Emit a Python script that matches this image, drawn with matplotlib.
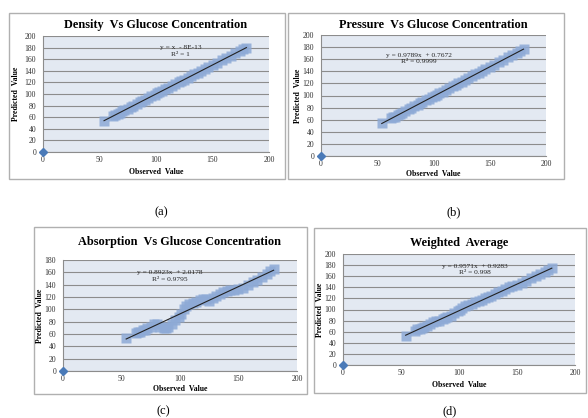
import matplotlib
matplotlib.use("Agg")
import matplotlib.pyplot as plt
from matplotlib.patches import Rectangle
import numpy as np

plt.rcParams['font.family'] = ['Liberation Serif', 'DejaVu Serif']

W, H = 588, 418

# observed glucose values (same for all panels)
observed = [54, 62, 64, 66, 68, 70, 72, 75, 78, 80, 83, 86, 88, 90, 93, 96, 99, 101,
            103, 105, 108, 111, 114, 117, 120, 122, 125, 128, 131, 134, 137, 140,
            143, 146, 150, 154, 158, 162, 166, 170, 174, 177, 180]

density_pred = [54, 62, 64, 66, 68, 70, 72, 75, 78, 80, 83, 86, 88, 90, 93, 96, 99, 101,
                103, 105, 108, 111, 114, 117, 120, 122, 125, 128, 131, 134, 137, 140,
                143, 146, 150, 154, 158, 162, 166, 170, 174, 177, 180]

pressure_pred = [54, 62, 64, 65, 67, 69, 71, 74, 77, 79, 82, 85, 87, 89, 92, 95, 98, 100,
                 101, 104, 106, 109, 112, 115, 118, 120, 123, 126, 129, 132, 135, 137,
                 140, 144, 147, 151, 155, 159, 163, 167, 171, 174, 177]

absorption_pred = [54, 62, 63, 64, 66, 67, 69, 72, 76, 77, 72, 69, 69, 72, 77, 82, 87, 92,
                   100, 106, 108, 110, 112, 115, 117, 117, 114, 118, 121, 125, 128, 130,
                   131, 132, 133, 134, 140, 145, 148, 153, 158, 162, 166]

weighted_pred = [53, 62, 64, 65, 66, 68, 70, 73, 77, 79, 80, 82, 84, 86, 89, 93, 97, 100,
                 103, 106, 108, 110, 113, 116, 118, 120, 122, 125, 128, 131, 134, 137,
                 140, 142, 145, 148, 152, 156, 160, 164, 168, 171, 174]

titles = ["Density  Vs Glucose Concentration", "Pressure  Vs Glucose Concentration",
          "Absorption  Vs Glucose Concentration", "Weighted  Average"]
equations = ["y = x  - 8E-13\nR\u00b2 = 1", "y = 0.9789x  + 0.7672\nR\u00b2 = 0.9999",
             "y = 0.8923x  + 2.0178\nR\u00b2 = 0.9795", "y = 0.9571x  + 0.9283\nR\u00b2 = 0.998"]
eq_pos = [(122, 174), (87, 161), (91, 154), (114, 172)]
ymax = [200, 200, 180, 200]
captions = ["(a)", "(b)", "(c)", "(d)"]
preds = [density_pred, pressure_pred, absorption_pred, weighted_pred]

# pixel layout: outer box, plot area (x0, x1, ytop, ybot), title y, xlabel y, ylabel x, caption pos
boxes = [(9, 13, 285, 179), (288, 13, 564, 179), (34, 227, 307, 394), (314, 228, 586, 393)]
areas = [(43, 269, 36, 152), (321, 546, 35, 156), (63, 297, 260, 371), (343, 575, 254, 365)]
title_y = [25, 25, 242, 243]
xlab_y = [172, 174, 389, 385]
ylab_x = [16, 298, 40, 320]
cap_pos = [(161, 212), (454, 212), (163, 411), (450, 411)]

fig = plt.figure(figsize=(W / 100, H / 100), dpi=100)


def fx(x):
    return x / W


def fy(y):
    return 1 - y / H


for i in range(4):
    bx0, by0, bx1, by1 = boxes[i]
    fig.patches.append(Rectangle((fx(bx0), fy(by1)), fx(bx1 - bx0), (by1 - by0) / H,
                                 transform=fig.transFigure, fill=False,
                                 edgecolor='#b0b0b0', lw=1.0))
    x0, x1, yt, yb = areas[i]
    ax = fig.add_axes([fx(x0), fy(yb), fx(x1 - x0), (yb - yt) / H])
    ax.set_facecolor('#e3e9f2')
    ax.set_xlim(0, 200)
    ax.set_ylim(0, ymax[i])
    ax.set_xticks([0, 50, 100, 150, 200])
    ax.set_yticks(range(0, ymax[i] + 1, 20))
    ax.grid(axis='y', color='#8c8c8c', lw=0.8)
    ax.set_axisbelow(True)
    for s in ['top', 'right']:
        ax.spines[s].set_visible(False)
    for s in ['left', 'bottom']:
        ax.spines[s].set_color('#8c8c8c')
        ax.spines[s].set_linewidth(0.8)
    ax.tick_params(axis='y', labelsize=5.6, length=0, pad=5, colors='#333333')
    ax.tick_params(axis='x', labelsize=5.6, length=0, pad=3, colors='#333333')

    x = np.array(observed)
    y = np.array(preds[i])
    ax.plot(x, y, 's', color='#8eaad6', ms=7, alpha=0.85, mec='none')
    ax.plot([0], [0], 'D', color='#4a7ab8', ms=4, clip_on=False, zorder=5)
    m, b = np.polyfit(x, y, 1)
    ax.plot([x.min(), x.max()], [m * x.min() + b, m * x.max() + b], color='#222222', lw=0.8)
    ax.text(eq_pos[i][0], eq_pos[i][1], equations[i], fontsize=5.3, ha='center', va='center',
            linespacing=1.3, color='#222222')

    fig.text(fx((x0 + x1) / 2 + 0), fy(title_y[i]), titles[i], fontsize=8.8, fontweight='bold',
             ha='center', va='center')
    fig.text(fx((x0 + x1) / 2), fy(xlab_y[i]), "Observed  Value", fontsize=5.6,
             fontweight='bold', ha='center', va='center')
    fig.text(fx(ylab_x[i]), fy((yt + yb) / 2), "Predicted  Value", fontsize=5.6,
             fontweight='bold', ha='center', va='center', rotation=90)
    fig.text(fx(cap_pos[i][0]), fy(cap_pos[i][1]), captions[i], fontsize=9,
             ha='center', va='center')

fig.savefig("out.png", dpi=100)
